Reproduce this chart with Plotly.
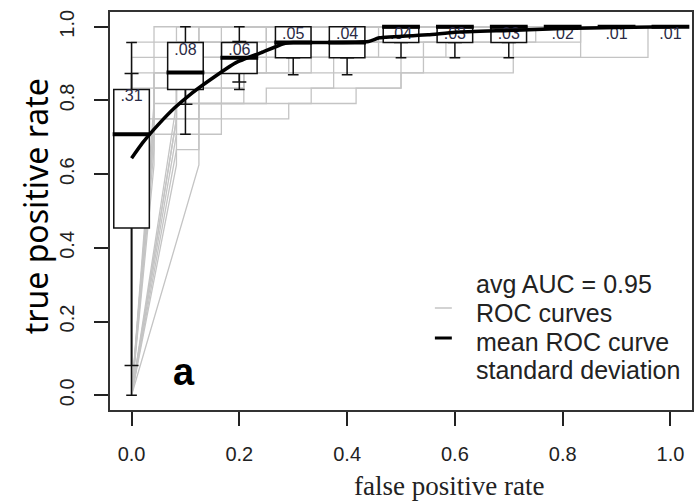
import plotly.graph_objects as go

# ---------------- data ----------------
N_NEG = 24   # negatives per test fold (fpr step 1/24)
N_POS = 24   # positives per test fold (tpr step 1/24)

# individual ROC curves (vertices, in counts of false / true positives)
roc_fp = [
    [0, 1, 7, 7, 10, 10, 12, 12, 23, 23, 24],
    [0, 3, 3, 6, 6, 12, 12, 17, 17, 20, 20, 24],
    [0, 2, 2, 5, 5, 13, 13, 18, 18, 24],
    [0, 1, 1, 4, 4, 8, 8, 20, 20, 24],
    [0, 2, 2, 6, 6, 11, 11, 15, 15, 24],
    [0, 1, 4, 4, 8, 8, 9, 9, 12, 12, 24],
    [0, 2, 2, 3, 3, 7, 7, 10, 10, 24],
    [0, 1, 1, 5, 5, 9, 9, 24],
    [0, 1, 1, 3, 3, 7, 7, 14, 14, 24],
    [0, 2, 2, 3, 3, 5, 5, 10, 10, 16, 16, 24],
    [0, 1, 1, 2, 2, 4, 4, 6, 6, 24],
    [0, 2, 2, 3, 3, 7, 7, 24],
    [0, 1, 1, 2, 2, 3, 3, 24],
    [0, 2, 2, 4, 4, 5, 5, 11, 11, 24],
    [0, 0, 1, 1, 3, 3, 6, 6, 24],
    [0, 0, 2, 2, 4, 4, 24],
    [0, 0, 2, 2, 24],
    [0, 0, 1, 1, 2, 2, 4, 4, 8, 8, 24],
    [0, 0, 1, 1, 24],
    [0, 0, 3, 3, 24],
]
roc_tp = [
    [0, 18, 18, 19, 19, 20, 20, 22, 22, 24, 24],
    [0, 15, 19, 19, 20, 20, 21, 21, 23, 23, 24, 24],
    [0, 17, 19, 19, 21, 21, 23, 23, 24, 24],
    [0, 16, 20, 20, 21, 21, 22, 22, 24, 24],
    [0, 18, 21, 21, 22, 22, 23, 23, 24, 24],
    [0, 17, 17, 19, 19, 20, 20, 23, 23, 24, 24],
    [0, 16, 20, 20, 22, 22, 23, 23, 24, 24],
    [0, 19, 22, 22, 23, 23, 24, 24],
    [0, 15, 18, 18, 21, 21, 22, 22, 24, 24],
    [0, 15, 16, 16, 20, 20, 22, 22, 23, 23, 24, 24],
    [0, 17, 19, 19, 21, 21, 22, 22, 24, 24],
    [0, 19, 21, 21, 23, 23, 24, 24],
    [0, 18, 21, 21, 23, 23, 24, 24],
    [0, 18, 19, 19, 20, 20, 23, 23, 24, 24],
    [0, 17, 17, 21, 21, 23, 23, 24, 24],
    [0, 21, 21, 23, 23, 24, 24],
    [0, 23, 23, 24, 24],
    [0, 18, 18, 20, 20, 22, 22, 23, 23, 24, 24],
    [0, 22, 22, 24, 24],
    [0, 20, 20, 24, 24],
]

# mean ROC curve
mean_fpr = [0.0, 0.02, 0.05, 0.08, 0.107, 0.144, 0.193, 0.241, 0.282, 0.30,
            0.35, 0.44, 0.46, 0.55, 0.60, 0.70, 0.80, 0.90, 1.0]
mean_tpr = [0.643, 0.684, 0.735, 0.78, 0.814, 0.854, 0.902, 0.93, 0.954, 0.957,
            0.957, 0.96, 0.97, 0.978, 0.985, 0.99, 0.995, 0.998, 1.0]

# boxplots at fixed fpr positions
box_fpr = [0.0, 0.1, 0.2, 0.3, 0.4, 0.5, 0.6, 0.7, 0.8, 0.9, 1.0]
box_q1 = [0.454, 0.830, 0.873, 0.916, 0.916, 0.957, 0.957, 0.957, 1.0, 1.0, 1.0]
box_median = [0.708, 0.876, 0.916, 0.957, 0.957, 1.0, 1.0, 1.0, 1.0, 1.0, 1.0]
box_q3 = [0.830, 0.957, 0.957, 1.0, 1.0, 1.0, 1.0, 1.0, 1.0, 1.0, 1.0]
whisker_lo = [0.0, 0.708, 0.830, 0.870, 0.870, 0.916, 0.916, 0.916, 1.0, 1.0, 1.0]
whisker_hi = [0.957, 1.0, 1.0, 1.0, 1.0, 1.0, 1.0, 1.0, 1.0, 1.0, 1.0]

# standard deviation bars
sd_lo = [0.081, 0.790, 0.850, 0.916, 0.916, 0.957, 0.957, 0.957, 1.0, 1.0, 1.0]
sd_hi = [0.873, 0.920, 0.960, 0.990, 0.990, 1.0, 1.0, 1.0, 1.0, 1.0, 1.0]

cutoff_labels = [".31", ".08", ".06", ".05", ".04", ".04", ".03", ".03", ".02", ".01", ".01"]

x_ticks = [0.0, 0.2, 0.4, 0.6, 0.8, 1.0]
y_ticks = [0.0, 0.2, 0.4, 0.6, 0.8, 1.0]
tick_text = ["0.0", "0.2", "0.4", "0.6", "0.8", "1.0"]

legend_lines = ["avg AUC = 0.95", "ROC curves", "mean ROC curve", "standard deviation"]

# ---------------- figure ----------------
W, H = 697, 503
ML, MR, MT, MB = 110, 3, 12, 93
PW, PH = W - ML - MR, H - MT - MB

def px(xp):
    return (xp - ML) / PW

def py(yp):
    return (H - MB - yp) / PH

GRAY = "#c4c4c4"
SANS = "Liberation Sans, Arial, sans-serif"

fig = go.Figure()

# layer 1: gray ROC curves and sd bars (below boxes)
for fp, tp in zip(roc_fp, roc_tp):
    fig.add_trace(go.Scatter(
        x=[f / N_NEG for f in fp], y=[t / N_POS for t in tp],
        mode="lines", line=dict(color=GRAY, width=1.3),
        hoverinfo="skip", showlegend=False, xaxis="x", yaxis="y"))

sd_mid = [(a + b) / 2 for a, b in zip(sd_lo, sd_hi)]
fig.add_trace(go.Scatter(
    x=box_fpr, y=sd_mid, mode="markers",
    marker=dict(size=1, opacity=0),
    error_y=dict(type="data", symmetric=False,
                 array=[h - m for h, m in zip(sd_hi, sd_mid)],
                 arrayminus=[m - l for m, l in zip(sd_mid, sd_lo)],
                 color="#111", thickness=1.5, width=7),
    showlegend=False, hoverinfo="skip", xaxis="x", yaxis="y"))

# layer 2: boxes, medians, cutoff labels, mean curve
fig.add_trace(go.Box(
    x=box_fpr, q1=box_q1, median=box_median, q3=box_q3,
    lowerfence=whisker_lo, upperfence=whisker_hi,
    width=0.066, whiskerwidth=0.3, fillcolor="white",
    line=dict(color="#111", width=1.5), boxpoints=False,
    showlegend=False, hoverinfo="skip", xaxis="x2", yaxis="y2"))

fig.add_trace(go.Scatter(
    x=box_fpr, y=box_median, mode="markers",
    marker=dict(symbol="line-ew", size=27, line=dict(width=4, color="black")),
    showlegend=False, hoverinfo="skip", xaxis="x2", yaxis="y2"))

fig.add_trace(go.Scatter(
    x=box_fpr, y=box_q3, mode="text", text=cutoff_labels,
    textposition="bottom center",
    textfont=dict(family=SANS, size=16, color="#2a2a44"),
    showlegend=False, hoverinfo="skip", xaxis="x2", yaxis="y2"))

fig.add_trace(go.Scatter(
    x=mean_fpr, y=mean_tpr, mode="lines",
    line=dict(color="black", width=3.5, shape="spline", smoothing=0.5),
    showlegend=False, hoverinfo="skip", xaxis="x2", yaxis="y2"))

axis_common = dict(range=[-0.04, 1.04], zeroline=False, showgrid=False)

fig.update_layout(
    width=W, height=H,
    margin=dict(l=ML, r=MR, t=MT, b=MB, pad=0),
    paper_bgcolor="white", plot_bgcolor="white",
    showlegend=False,
    xaxis=dict(**axis_common, tickmode="array", tickvals=x_ticks, ticktext=tick_text,
               ticks="outside", ticklen=14, tickwidth=1.5, tickcolor="#222",
               showline=True, linecolor="#333", linewidth=2, mirror=True,
               ticklabelstandoff=11,
               tickfont=dict(family=SANS, size=20, color="#222")),
    yaxis=dict(**axis_common, tickmode="array", tickvals=y_ticks, ticktext=tick_text,
               ticks="outside", ticklen=14, tickwidth=1.5, tickcolor="#222",
               showline=True, linecolor="#333", linewidth=2, mirror=True,
               tickangle=-90, ticklabelstandoff=12,
               tickfont=dict(family=SANS, size=20, color="#222")),
    xaxis2=dict(**axis_common, overlaying="x", visible=False),
    yaxis2=dict(**axis_common, overlaying="y", visible=False),
)

ann = []
# legend text
for txt, yp in zip(legend_lines, [284, 313, 342, 370]):
    ann.append(dict(text=txt, x=px(475), y=py(yp), xref="paper", yref="paper",
                    xanchor="left", yanchor="middle", showarrow=False,
                    font=dict(family=SANS, size=25, color="#222")))
# panel letter
ann.append(dict(text="<b>a</b>", x=0.097, y=0.063, xref="x", yref="y",
                xanchor="center", yanchor="middle", showarrow=False,
                font=dict(family=SANS, size=38, color="black")))
# axis titles
ann.append(dict(text="true positive rate", x=px(35), y=py(206), xref="paper", yref="paper",
                xanchor="center", yanchor="middle", textangle=-90, showarrow=False,
                font=dict(family="Noto Sans, Open Sans, sans-serif", size=32, color="black")))
ann.append(dict(text="false positive rate", x=px(450), y=py(486), xref="paper", yref="paper",
                xanchor="center", yanchor="middle", showarrow=False,
                font=dict(family="Liberation Serif, Times New Roman, serif", size=27, color="#222")))
fig.update_layout(annotations=ann)

# legend line samples
fig.update_layout(shapes=[
    dict(type="line", xref="paper", yref="paper", x0=px(436), x1=px(453),
         y0=py(308), y1=py(308), line=dict(color=GRAY, width=1.5)),
    dict(type="line", xref="paper", yref="paper", x0=px(436), x1=px(453),
         y0=py(338), y1=py(338), line=dict(color="black", width=3)),
])

fig.write_html("out.html")
